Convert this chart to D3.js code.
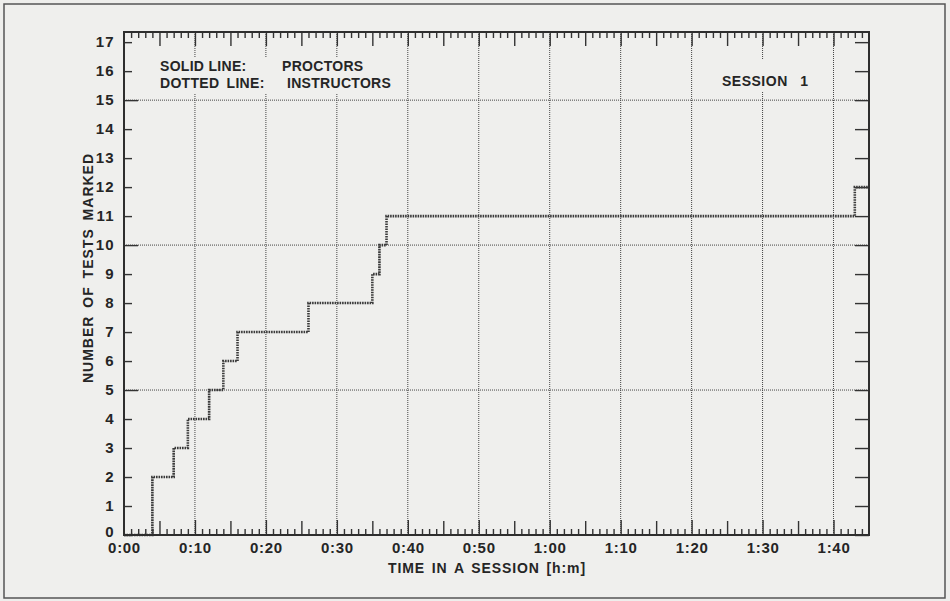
<!DOCTYPE html>
<html>
<head>
<meta charset="utf-8">
<script src="https://cdn.jsdelivr.net/npm/d3@7/dist/d3.min.js"></script>
<style>
  body { margin: 0; background: #eeeeec; }
  svg text { font-family: "Liberation Sans", Arial, sans-serif; font-weight: bold; fill: #252525; }
</style>
</head>
<body>
<div id="chart"></div>
<script>
// step series (minutes, tests marked)
const stepMinutes = [0, 4, 7, 9, 12, 14, 16, 26, 35, 36, 37, 103, 105];
const stepCounts  = [0, 2, 3, 4, 5, 6, 7, 8, 9, 10, 11, 12, 12];

const xTickMinutes = [0, 10, 20, 30, 40, 50, 60, 70, 80, 90, 100];
const xTickLabels  = ["0:00", "0:10", "0:20", "0:30", "0:40", "0:50", "1:00", "1:10", "1:20", "1:30", "1:40"];
const yTickValues  = [0, 1, 2, 3, 4, 5, 6, 7, 8, 9, 10, 11, 12, 13, 14, 15, 16, 17];
const yGridValues  = [5, 10, 15];

const W = 950, H = 601;
const pLeft = 124, pRight = 869, pTop = 32, pBottom = 535;

const svg = d3.select("#chart").append("svg")
  .attr("width", W).attr("height", H);

// page border of the scan
svg.append("rect")
  .attr("x", 4).attr("y", 4).attr("width", 941).attr("height", 594)
  .attr("fill", "#efefed").attr("stroke", "#555").attr("stroke-width", 1.5);

let x = d3.scaleLinear().domain([0, 105]).range([pLeft, pRight]);
let y = d3.scaleLinear().domain([0, 17.35]).range([pBottom, pTop]);

let minor = d3.range(0, 106).filter(m => m % 5 != 0);
let mid = d3.range(5, 105, 10);

function tickAxis(axis, values, size, tx, ty) {
  let g = svg.append("g")
    .attr("transform", "translate(" + tx + "," + ty + ")")
    .call(axis.tickValues(values).tickSize(size).tickFormat(""));
  g.select(".domain").remove();
  g.selectAll("line").attr("stroke", "#333").attr("stroke-width", 1.4);
  return g;
}

// grid lines
svg.append("g").selectAll("line")
  .data(xTickMinutes.slice(1))
  .enter().append("line")
    .attr("x1", d => x(d)).attr("x2", d => x(d))
    .attr("y1", pTop).attr("y2", pBottom)
    .attr("stroke", "#444").attr("stroke-width", 1).attr("stroke-dasharray", "1,1");

svg.append("g").selectAll("line")
  .data(yGridValues)
  .enter().append("line")
    .attr("x1", pLeft).attr("x2", pRight)
    .attr("y1", d => y(d)).attr("y2", d => y(d))
    .attr("stroke", "#444").attr("stroke-width", 1).attr("stroke-dasharray", "1,1");

// bottom ticks (pointing up)
tickAxis(d3.axisTop(x), minor, 6, 0, pBottom);
tickAxis(d3.axisTop(x), mid, 14, 0, pBottom);
tickAxis(d3.axisTop(x), xTickMinutes.slice(1), 15, 0, pBottom);
// top ticks (pointing down)
tickAxis(d3.axisBottom(x), minor, 6, 0, pTop);
tickAxis(d3.axisBottom(x), mid, 14, 0, pTop);
tickAxis(d3.axisBottom(x), xTickMinutes.slice(1), 14, 0, pTop);
// left and right ticks
tickAxis(d3.axisRight(y), yTickValues.filter(v => yGridValues.indexOf(v) < 0), 8, pLeft, 0);
tickAxis(d3.axisRight(y), yGridValues, 14, pLeft, 0);
tickAxis(d3.axisLeft(y), yTickValues, 14, pRight, 0);

// x tick labels
let xl = svg.append("g")
  .attr("transform", "translate(0," + pBottom + ")")
  .call(d3.axisBottom(x).tickValues(xTickMinutes).tickSize(0).tickPadding(7)
    .tickFormat((d, i) => xTickLabels[i]));
xl.select(".domain").remove();
xl.selectAll("text").style("font-size", "15px").style("letter-spacing", "0.7px");
xl.attr("font-family", null).attr("font-size", null);

// y tick labels
let yl = svg.append("g")
  .attr("transform", "translate(" + pLeft + ",0)")
  .call(d3.axisLeft(y).tickValues(yTickValues).tickSize(0).tickPadding(9));
yl.select(".domain").remove();
yl.selectAll("text").style("font-size", "15px").style("letter-spacing", "1.3px")
  .attr("dy", d => d == 0 ? "0.1em" : "0.32em");
yl.attr("font-family", null).attr("font-size", null);

// step line
let line = d3.line()
  .x((d, i) => x(stepMinutes[i]))
  .y(d => y(d))
  .curve(d3.curveStepAfter);

svg.append("path")
  .datum(stepCounts)
  .attr("d", line)
  .attr("fill", "none")
  .attr("stroke", "#3a3a3a")
  .attr("stroke-width", 2.6)
  .attr("stroke-dasharray", "1.6,0.9");

// frame
svg.append("rect")
  .attr("x", pLeft).attr("y", pTop)
  .attr("width", pRight - pLeft).attr("height", pBottom - pTop)
  .attr("fill", "none").attr("stroke", "#2e2e2e").attr("stroke-width", 2);

// legend and session label sit on paper-coloured patches that break the grid
svg.append("rect").attr("x", 154).attr("y", 58).attr("width", 244).attr("height", 35).attr("fill", "#efefed");
svg.append("rect").attr("x", 716).attr("y", 60).attr("width", 96).attr("height", 31).attr("fill", "#efefed");

svg.append("text").attr("x", 160).attr("y", 71).style("font-size", "14px").style("letter-spacing", "0.3px").text("SOLID LINE:");
svg.append("text").attr("x", 282).attr("y", 71).style("font-size", "14px").style("letter-spacing", "0.3px").text("PROCTORS");
svg.append("text").attr("x", 160).attr("y", 88).style("font-size", "14px").style("letter-spacing", "0.3px").style("word-spacing", "3px").text("DOTTED LINE:");
svg.append("text").attr("x", 287).attr("y", 88).style("font-size", "14px").style("letter-spacing", "0.3px").text("INSTRUCTORS");
svg.append("text").attr("x", 722).attr("y", 86).style("font-size", "14px").style("letter-spacing", "0.5px").style("word-spacing", "8px").text("SESSION 1");

// axis titles
svg.append("text")
  .attr("text-anchor", "middle")
  .attr("x", 487).attr("y", 573)
  .style("font-size", "14px").style("letter-spacing", "0.9px").style("word-spacing", "2px")
  .text("TIME IN A SESSION [h:m]");

svg.append("text")
  .attr("text-anchor", "middle")
  .attr("transform", "translate(93,268) rotate(-90)")
  .style("font-size", "14px").style("letter-spacing", "1px").style("word-spacing", "3px")
  .text("NUMBER OF TESTS MARKED");
</script>
</body>
</html>
